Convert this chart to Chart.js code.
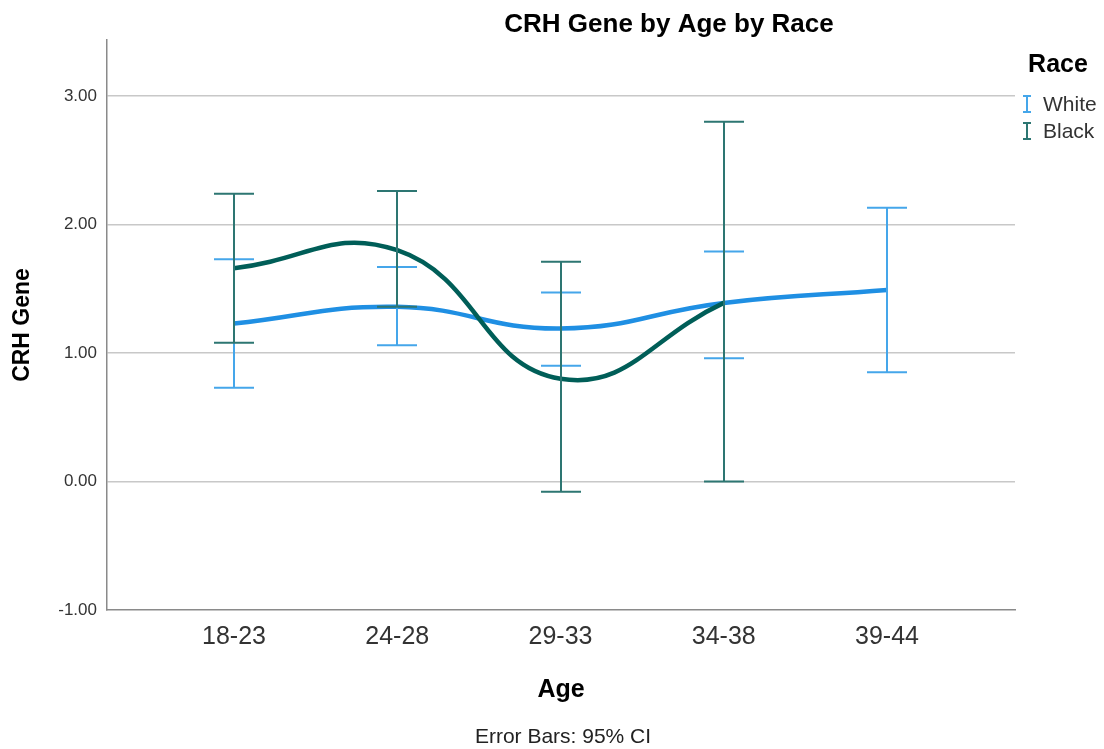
<!DOCTYPE html>
<html>
<head>
<meta charset="utf-8">
<script src="https://cdn.jsdelivr.net/npm/chart.js@4.4.1/dist/chart.umd.min.js"></script>
<style>
html,body{margin:0;padding:0;background:#fff;}
#wrap{width:1104px;height:749px;position:relative;}
</style>
</head>
<body>
<div id="wrap"><canvas id="c" width="1104" height="749"></canvas></div>
<script>
// ---- data ----
const categories = ["18-23", "24-28", "29-33", "34-38", "39-44"];
const whiteMean = [1.23, 1.36, 1.19, 1.39, 1.49];
const whiteLow  = [0.73, 1.06, 0.90, 0.96, 0.85];
const whiteHigh = [1.73, 1.67, 1.47, 1.79, 2.13];
const blackMean = [1.66, 1.80, 0.80, 1.39, null];
const blackLow  = [1.08, 1.36, -0.08, 0.00, null];
const blackHigh = [2.24, 2.26, 1.71, 2.80, null];
const yTicks = [-1, 0, 1, 2, 3];
const seriesNames = ["White", "Black"];

const FONT = '"Liberation Sans", Arial, Helvetica, sans-serif';
const WHITE_LINE = '#1f8fe3', WHITE_BAR = '#45a6ea';
const BLACK_LINE = '#005e58', BLACK_BAR = '#2d7672';

function pts(arr){ const o=[]; arr.forEach((v,i)=>{ if(v!==null) o.push({x:i,y:v}); }); return o; }

const errorBars = {
  id:'errorBars',
  afterDatasetsDraw(chart){
    const {ctx, scales:{x,y}} = chart;
    const sets = [
      {lo:whiteLow, hi:whiteHigh, color:WHITE_BAR},
      {lo:blackLow, hi:blackHigh, color:BLACK_BAR}
    ];
    ctx.save();
    ctx.lineWidth = 2;
    sets.forEach(s=>{
      ctx.strokeStyle = s.color;
      s.lo.forEach((lo,i)=>{
        const hi = s.hi[i];
        if(lo===null||hi===null) return;
        const px = Math.round(x.getPixelForValue(i));
        const y1 = y.getPixelForValue(lo), y2 = y.getPixelForValue(hi);
        const w = 20;
        ctx.beginPath();
        ctx.moveTo(px, y1); ctx.lineTo(px, y2);
        ctx.moveTo(px-w, y1); ctx.lineTo(px+w, y1);
        ctx.moveTo(px-w, y2); ctx.lineTo(px+w, y2);
        ctx.stroke();
      });
    });
    ctx.restore();
  }
};

const texts = {
  id:'texts',
  afterDraw(chart){
    const ctx = chart.ctx;
    ctx.save();
    ctx.fillStyle = '#000';
    ctx.textAlign = 'center';
    ctx.textBaseline = 'middle';
    ctx.font = 'bold 26px ' + FONT;
    ctx.fillText('CRH Gene by Age by Race', 669, 25);
    ctx.fillStyle = '#222';
    ctx.font = '21px ' + FONT;
    ctx.fillText('Error Bars: 95% CI', 563, 737);
    // legend
    ctx.fillStyle = '#000';
    ctx.font = 'bold 25px ' + FONT;
    ctx.fillText('Race', 1058, 65);
    ctx.textAlign = 'left';
    ctx.font = '21px ' + FONT;
    const cols = [WHITE_BAR, BLACK_BAR];
    const ys = [104, 131];
    seriesNames.forEach((n,i)=>{
      const cy = ys[i], cx = 1027;
      ctx.strokeStyle = cols[i];
      ctx.lineWidth = 2;
      ctx.beginPath();
      ctx.moveTo(cx, cy-8); ctx.lineTo(cx, cy+8);
      ctx.moveTo(cx-4, cy-8); ctx.lineTo(cx+4, cy-8);
      ctx.moveTo(cx-4, cy+8); ctx.lineTo(cx+4, cy+8);
      ctx.stroke();
      ctx.fillStyle = '#333';
      ctx.fillText(n, 1043, cy+1);
    });
    ctx.restore();
  }
};

new Chart(document.getElementById('c'), {
  type:'line',
  data:{
    datasets:[
      {label:seriesNames[0], data:pts(whiteMean), borderColor:WHITE_LINE, borderWidth:4.5, tension:0.45, pointRadius:0, fill:false, order:2},
      {label:seriesNames[1], data:pts(blackMean), borderColor:BLACK_LINE, borderWidth:4.5, tension:0.45, pointRadius:0, fill:false, order:1}
    ]
  },
  options:{
    responsive:false,
    animation:false,
    devicePixelRatio:1,
    layout:{padding:{top:40, right:89, bottom:0, left:0}},
    plugins:{legend:{display:false}, tooltip:{enabled:false}, title:{display:false}},
    scales:{
      x:{
        type:'linear', min:-0.778, max:4.784,
        afterBuildTicks(s){ s.ticks = categories.map((c,i)=>({value:i})); },
        afterFit(s){ s.height = 139; },
        grid:{display:false, drawTicks:false},
        border:{display:true, color:'#8a8a8a', width:1.5},
        ticks:{callback:(v)=>categories[v], color:'#333', font:{family:FONT, size:25}, padding:12, maxRotation:0, autoSkip:false},
        title:{display:true, text:'Age', color:'#000', font:{family:FONT, size:25, weight:'bold'}, padding:{top:0, bottom:44}}
      },
      y:{
        min:-1, max:3.436,
        afterBuildTicks(s){ s.ticks = yTicks.map(v=>({value:v})); },
        afterFit(s){ s.width = 107; },
        grid:{drawTicks:false, lineWidth:1.5, color:(c)=> c.tick && c.tick.value === -1 ? 'rgba(0,0,0,0)' : '#c8c8c8'},
        border:{display:true, color:'#8a8a8a', width:1.5},
        ticks:{callback:(v)=>Number(v).toFixed(2), color:'#333', font:{family:FONT, size:17}, padding:10},
        title:{display:true, text:'CRH Gene', color:'#000', font:{family:FONT, size:23, weight:'bold'}, padding:{top:9, bottom:0}}
      }
    }
  },
  plugins:[errorBars, texts]
});
</script>
</body>
</html>
